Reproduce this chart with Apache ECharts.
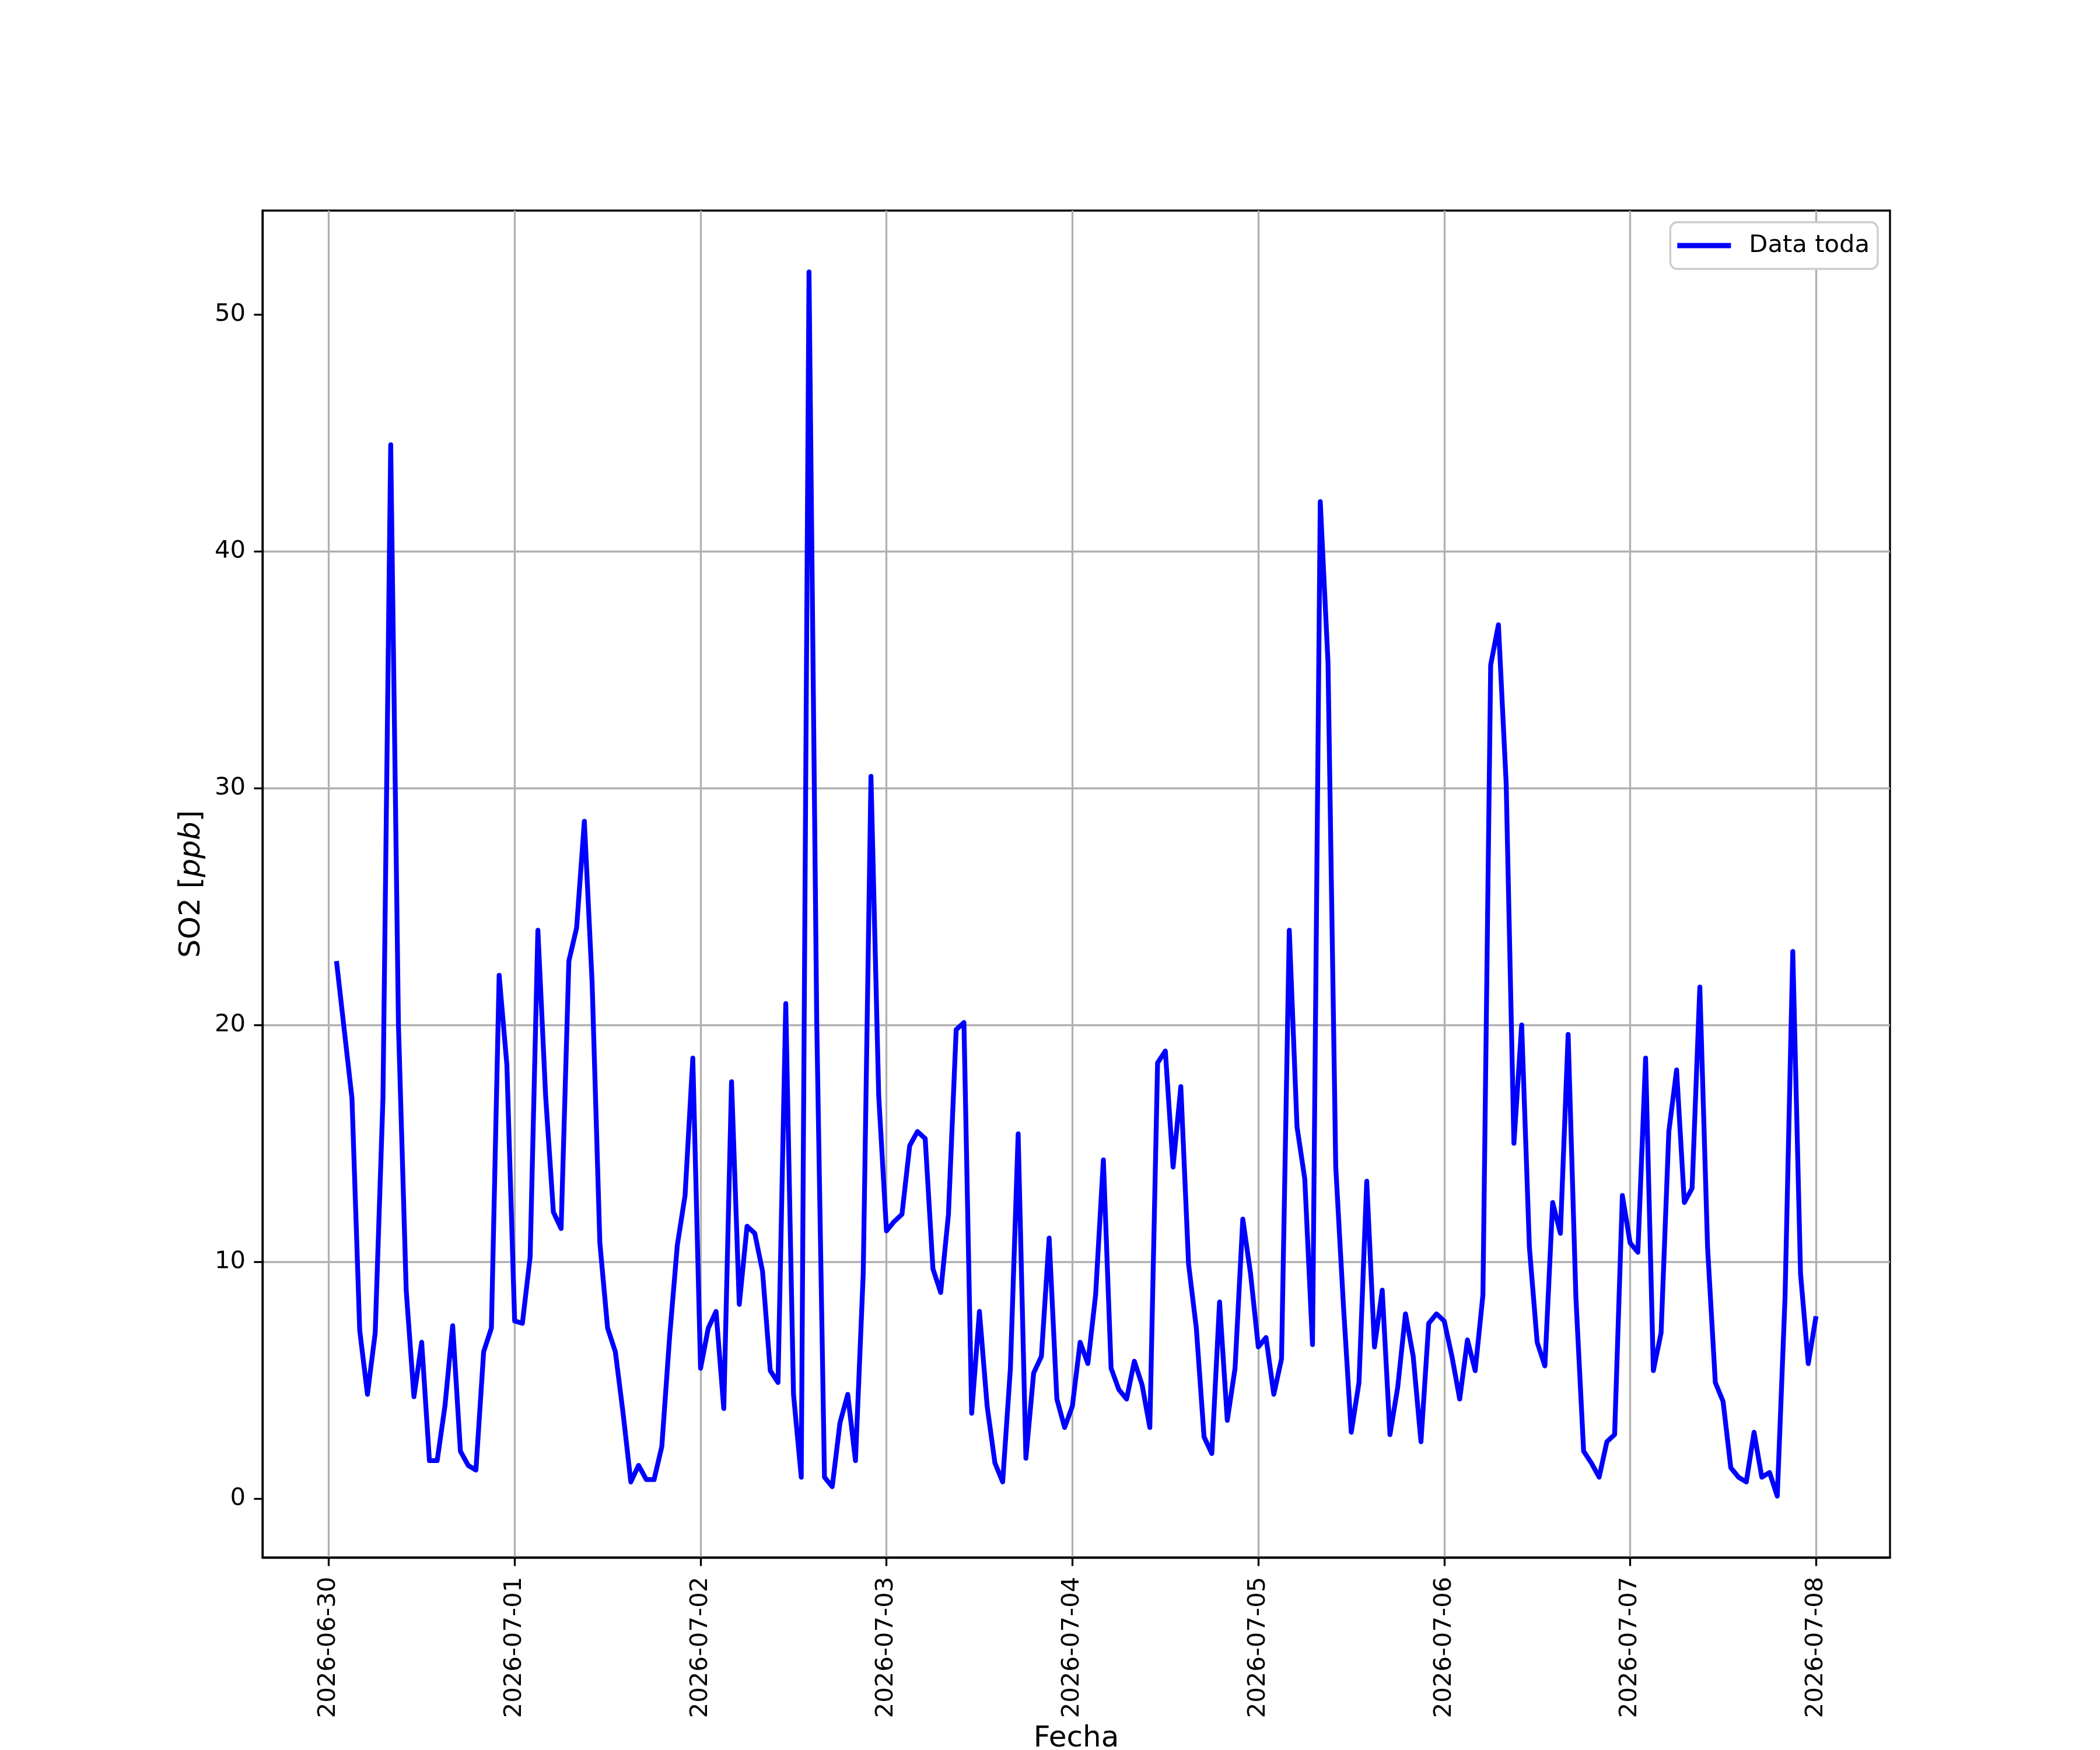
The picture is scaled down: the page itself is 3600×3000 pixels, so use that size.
<!DOCTYPE html>
<html><head><meta charset="utf-8">
<script src="https://cdn.jsdelivr.net/npm/echarts@6/dist/echarts.min.js"></script>
<style>html,body{margin:0;padding:0;background:#fff}#c{width:3600px;height:3000px}</style>
</head><body><div id="c"></div>
<script>
// Hourly SO2 readings, first reading 2026-06-30 01:00, last 2026-07-08 00:00
const firstTime = Date.UTC(2026, 5, 30, 1, 0, 0);
const stepMs = 3600 * 1000;
const day0630 = [22.7,19.8,16.9,7.1,4.4,7.0,16.9,44.5,20.0,8.8,4.3,6.6,1.6,1.6,3.9,7.3,2.0,1.4,1.2,6.2,7.2,22.1,18.3,7.5];
const day0701 = [7.4,10.2,24.0,17.0,12.1,11.4,22.7,24.1,28.6,21.8,10.8,7.2,6.2,3.6,0.7,1.4,0.8,0.8,2.2,6.8,10.7,12.8,18.6,5.5];
const day0702 = [7.2,7.9,3.8,17.6,8.2,11.5,11.2,9.6,5.4,4.9,20.9,4.4,0.9,51.8,20.1,0.9,0.5,3.2,4.4,1.6,9.5,30.5,17.0,11.3];
const day0703 = [11.7,12.0,14.9,15.5,15.2,9.7,8.7,12.0,19.8,20.1,3.6,7.9,3.9,1.5,0.7,5.5,15.4,1.7,5.3,6.0,11.0,4.2,3.0,3.9];
const day0704 = [6.6,5.7,8.6,14.3,5.5,4.6,4.2,5.8,4.8,3.0,18.4,18.9,14.0,17.4,9.9,7.2,2.6,1.9,8.3,3.3,5.5,11.8,9.5,6.4];
const day0705 = [6.8,4.4,5.9,24.0,15.7,13.5,6.5,42.1,35.3,14.0,8.1,2.8,4.9,13.4,6.4,8.8,2.7,4.7,7.8,6.0,2.4,7.4,7.8,7.5];
const day0706 = [6.0,4.2,6.7,5.4,8.6,35.2,36.9,30.2,15.0,20.0,10.6,6.6,5.6,12.5,11.2,19.6,8.5,2.0,1.5,0.9,2.4,2.7,12.8,10.8];
const day0707 = [10.4,18.6,5.4,7.0,15.5,18.1,12.5,13.1,21.6,10.6,4.9,4.1,1.3,0.9,0.7,2.8,0.9,1.1,0.1,8.5,23.1,9.5,5.7,7.7];

const so2Values = [].concat(day0630, day0701, day0702, day0703, day0704, day0705, day0706, day0707);
const seriesName = 'Data toda';
const xTitle = 'Fecha';
const yTickValues = [0, 10, 20, 30, 40, 50];
const xTickDays = [[2026,5,30],[2026,6,1],[2026,6,2],[2026,6,3],[2026,6,4],[2026,6,5],[2026,6,6],[2026,6,7],[2026,6,8]];

const seriesData = so2Values.map((v, i) => [firstTime + i * stepMs, v]);
const xTickValues = xTickDays.map(d => Date.UTC(d[0], d[1], d[2]));

const dayMs = 24 * stepMs;
const xMin = Date.UTC(2026, 5, 30, 0) - 8.55 * stepMs;
const xMax = Date.UTC(2026, 6, 8, 0) + 9.55 * stepMs;

const FONT = 'DejaVu Sans';
const chart = echarts.init(document.getElementById('c'), null, {renderer: 'canvas', width: 3600, height: 3000});
chart.setOption({
  useUTC: true,
  animation: false,
  backgroundColor: '#ffffff',
  grid: {left: 450, right: 360, top: 361, bottom: 330, containLabel: false, outerBoundsMode: 'none',
    show: true, borderColor: '#000', borderWidth: 3.3, backgroundColor: 'transparent'},
  legend: {
    show: true, right: 381, top: 381,
    padding: [19, 14, 19, 12],
    borderColor: '#cccccc', borderWidth: 3.3, borderRadius: 12, backgroundColor: '#ffffff',
    itemWidth: 92, itemHeight: 9,
    textStyle: {fontFamily: FONT, fontSize: 41.7, color: '#000', padding: [0, 0, 0, 26]},
    data: [{name: seriesName, icon: 'rect', itemStyle: {color: '#0000ff'}}]
  },
  xAxis: {
    type: 'time', min: xMin, max: xMax,
    minInterval: dayMs, maxInterval: dayMs,
    name: xTitle, nameLocation: 'middle', nameGap: 286,
    nameTextStyle: {fontFamily: FONT, fontSize: 50, color: '#000'},
    axisLine: {show: true, onZero: false, lineStyle: {color: '#000', width: 3.3}},
    axisTick: {show: true, length: 14.6, customValues: xTickValues, lineStyle: {color: '#000', width: 3.3}},
    axisLabel: {rotate: 90, margin: 33, fontFamily: FONT, fontSize: 41.7, color: '#000',
      customValues: xTickValues, formatter: '{yyyy}-{MM}-{dd}'},
    splitLine: {show: true, showMinLine: false, showMaxLine: false, lineStyle: {color: '#b0b0b0', width: 3.3}}
  },
  yAxis: {
    type: 'value', min: -2.49, max: 54.39,
    name: 'SO2 [{i|ppb}]', nameLocation: 'middle', nameGap: 96, nameRotate: 90,
    nameTextStyle: {fontFamily: FONT, fontSize: 50, color: '#000',
      rich: {i: {fontFamily: FONT, fontSize: 50, fontStyle: 'italic', color: '#000'}}},
    axisLine: {show: true, onZero: false, lineStyle: {color: '#000', width: 3.3}},
    axisTick: {show: true, length: 14.6, customValues: yTickValues, lineStyle: {color: '#000', width: 3.3}},
    axisLabel: {margin: 29, fontFamily: FONT, fontSize: 41.7, color: '#000', customValues: yTickValues},
    splitLine: {show: true, showMinLine: false, showMaxLine: false, lineStyle: {color: '#b0b0b0', width: 3.3}}
  },
  series: [{
    name: seriesName, type: 'line', data: seriesData,
    symbol: 'none', showSymbol: false,
    lineStyle: {color: '#0000ff', width: 8.3, join: 'round'},
    itemStyle: {color: '#0000ff'}
  }]
});
</script></body></html>
